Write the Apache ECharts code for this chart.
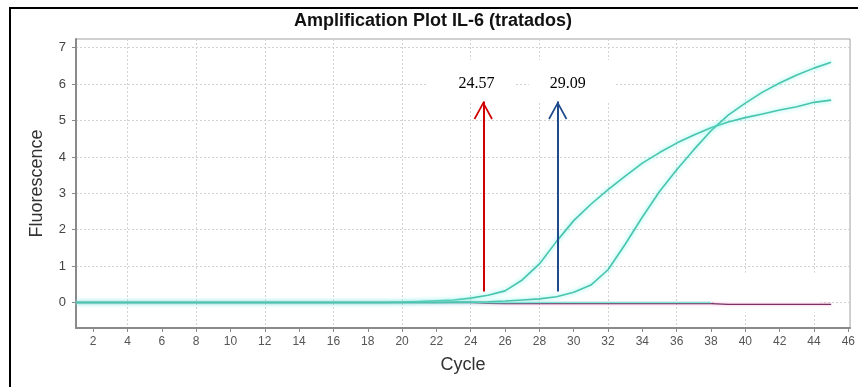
<!DOCTYPE html>
<html>
<head>
<meta charset="utf-8">
<script src="https://cdn.jsdelivr.net/npm/echarts@6/dist/echarts.min.js"></script>
<style>
  html, body { margin: 0; padding: 0; background: #fff; }
  #chart { width: 858px; height: 387px; }
</style>
</head>
<body>
<div id="chart"></div>
<script>
// ciclos del termociclador
const cycles = [1, 2, 3, 4, 5, 6, 7, 8, 9, 10, 11, 12, 13, 14, 15, 16, 17, 18, 19, 20,
  21, 22, 23, 24, 25, 26, 27, 28, 29, 30, 31, 32, 33, 34, 35, 36, 37, 38, 39, 40,
  41, 42, 43, 44, 45];

// curva temprana (Ct 24.57)
const curveEarly = [0, 0, 0, 0, 0, 0, 0, 0, 0, 0, 0, 0, 0, 0, 0, 0, 0, 0, 0, 0.01,
  0.03, 0.05, 0.07, 0.12, 0.2, 0.32, 0.62, 1.06, 1.68, 2.25, 2.7, 3.1, 3.47, 3.83, 4.12, 4.38, 4.6, 4.8, 4.96, 5.08,
  5.18, 5.29, 5.38, 5.5, 5.56];

// curva tardia (Ct 29.09)
const curveLate = [0, 0, 0, 0, 0, 0, 0, 0, 0, 0, 0, 0, 0, 0, 0, 0, 0, 0, 0, 0,
  0, 0, 0.01, 0.01, 0.02, 0.04, 0.07, 0.1, 0.16, 0.28, 0.48, 0.9, 1.6, 2.35, 3.05, 3.65, 4.2, 4.72, 5.15, 5.48,
  5.78, 6.03, 6.25, 6.44, 6.6];

// pozos planos
const baseline = [0, 0, 0, 0, 0, 0, 0, 0, 0, 0, 0, 0, 0, 0, 0, 0, 0, 0, 0, 0,
  0, 0, 0, 0, 0, 0, 0, 0, 0, 0, 0, 0, 0, 0, 0, 0, 0, 0];

// control negativo
const ntc = [0, 0, 0, 0, 0, 0, 0, 0, 0, 0, 0, 0, 0, 0, 0, 0, 0, 0, 0, 0,
  0, 0, 0, 0, -0.02, -0.03, -0.03, -0.03, -0.03, -0.03, -0.03, -0.03, -0.03, -0.03, -0.03, -0.03, -0.03, -0.03, -0.05, -0.05,
  -0.05, -0.05, -0.05, -0.05, -0.05];

const xTickLabels = [2, 4, 6, 8, 10, 12, 14, 16, 18, 20, 22, 24, 26, 28, 30, 32, 34, 36, 38, 40, 42, 44, 46];
const yTickLabels = [0, 1, 2, 3, 4, 5, 6, 7];

// anotaciones Ct
const ctTexts = ["24.57", "29.09"];
const ctArrowCycles = [24.73, 29.07];
const ctBoxCycles = [24.02, 29.92];
const arrowBottom = 0.3;
const arrowTop = 5.52;
const boxLevel = 6.1;

const pair = (ys) => ys.map((y, i) => [cycles[i], y]);

// punta de flecha abierta, centrada en la punta
const chevron = "path://M10,-18L10.01,-18Z M10,0L20,17.5L18.4,18.6L10,3.6L1.6,18.6L0,17.5Z";

const arrowLine = (x, color) => ({
  silent: true,
  symbol: ["none", chevron],
  symbolSize: [19, 36],
  lineStyle: { color, width: 2, type: "solid" },
  label: { show: false },
  emphasis: { disabled: true },
  data: [[{ coord: [x, arrowBottom] }, { coord: [x, arrowTop] }]],
});

const ctBox = (x, text, dx) => ({
  silent: true,
  symbol: "rect",
  symbolSize: [87, 41],
  itemStyle: { color: "#ffffff" },
  label: {
    show: true,
    formatter: text,
    color: "#000",
    fontFamily: "Liberation Serif",
    fontSize: 16,
    offset: [dx, 3.5],
  },
  data: [{ coord: [x, boxLevel] }],
});

const lineCyan = {
  color: "#4cc4ad",
  width: 1.6,
  shadowColor: "rgba(110, 245, 232, 0.95)",
  shadowBlur: 4,
};

const chart = echarts.init(document.getElementById("chart"));

const option = {
  animation: false,
  title: {
    text: "Amplification Plot IL-6 (tratados)",
    left: 294,
    top: 12,
    padding: 0,
    textStyle: {
      fontFamily: "Liberation Sans",
      fontSize: 18,
      fontWeight: "bold",
      color: "#111",
    },
  },
  graphic: [
    {
      type: "rect",
      shape: { x: 10, y: 8, width: 900, height: 420 },
      style: { fill: "none", stroke: "#000", lineWidth: 2 },
      silent: true,
    },
  ],
  grid: {
    left: 76,
    top: 39,
    right: 2,
    bottom: 59,
    show: true,
    borderColor: "#a0a0a0",
    borderWidth: 1,
  },
  xAxis: {
    type: "value",
    min: 1,
    max: 46.1,
    interval: 1,
    name: "Cycle",
    nameLocation: "middle",
    nameGap: 28,
    nameTextStyle: { fontFamily: "Liberation Sans", fontSize: 18, color: "#333" },
    axisLine: { onZero: false, lineStyle: { color: "#8a8a8a", width: 2 } },
    axisTick: { customValues: xTickLabels, length: 4, lineStyle: { color: "#8a8a8a" } },
    axisLabel: {
      customValues: xTickLabels,
      margin: 8,
      fontFamily: "Liberation Sans",
      fontSize: 12,
      color: "#555",
    },
    splitLine: {
      show: true,
      lineStyle: { color: ["transparent", "#d2d2d2"], type: [2, 2], width: 1 },
    },
  },
  yAxis: {
    type: "value",
    min: -0.7,
    max: 7.24,
    interval: 1,
    name: "Fluorescence",
    nameLocation: "middle",
    nameGap: 30,
    nameTextStyle: { fontFamily: "Liberation Sans", fontSize: 18, color: "#333" },
    axisLine: { show: true, onZero: false, lineStyle: { color: "#8a8a8a", width: 2 } },
    axisTick: { show: true, customValues: yTickLabels, length: 4, lineStyle: { color: "#8a8a8a" } },
    axisLabel: {
      customValues: yTickLabels,
      margin: 10,
      fontFamily: "Liberation Sans",
      fontSize: 13,
      color: "#444",
    },
    splitLine: {
      show: true,
      lineStyle: { color: "#d2d2d2", type: [2, 2], width: 1 },
    },
  },
  series: [
    {
      name: "NTC",
      type: "line",
      data: pair(ntc),
      showSymbol: false,
      lineStyle: { color: "#7a2f63", width: 1.4, shadowColor: "rgba(240, 130, 195, 0.8)", shadowBlur: 3 },
      markArea: {
        silent: true,
        itemStyle: { color: "#ffffff" },
        data: [[{ coord: [38.3, -0.28] }, { coord: [44.4, 0.82] }]],
      },
    },
    {
      name: "Base",
      type: "line",
      data: pair(baseline),
      showSymbol: false,
      lineStyle: { color: "#7fe6d6", width: 1.5 },
    },
    {
      name: "Tratado 1",
      type: "line",
      data: pair(curveEarly),
      showSymbol: false,
      lineStyle: lineCyan,
      markLine: arrowLine(ctArrowCycles[0], "#d00000"),
      markPoint: ctBox(ctBoxCycles[0], ctTexts[0], 5.5),
    },
    {
      name: "Tratado 2",
      type: "line",
      data: pair(curveLate),
      showSymbol: false,
      lineStyle: lineCyan,
      markLine: arrowLine(ctArrowCycles[1], "#1f4b8c"),
      markPoint: ctBox(ctBoxCycles[1], ctTexts[1], -4.5),
    },
  ],
};

chart.setOption(option);
window.addEventListener("resize", () => chart.resize());
</script>
</body>
</html>
